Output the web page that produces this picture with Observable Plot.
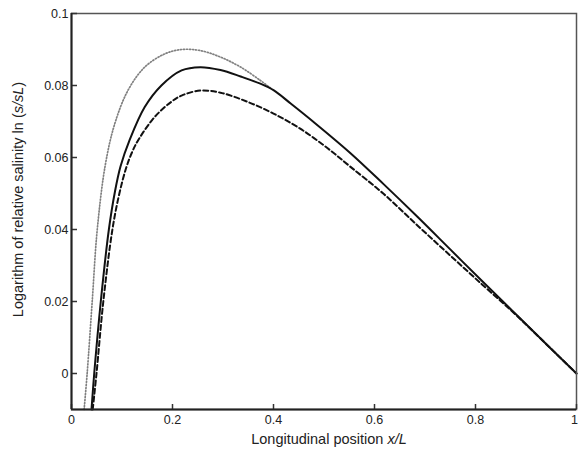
<!DOCTYPE html>
<html>
<head>
<meta charset="utf-8">
<script src="https://cdn.jsdelivr.net/npm/d3@7"></script>
<script src="https://cdn.jsdelivr.net/npm/@observablehq/plot@0.6"></script>
<style>
  html, body { margin: 0; padding: 0; background: #fff; }
  svg { display: block; }
</style>
</head>
<body>
<div id="chart"></div>
<script>
// Solid curve (x/L, ln(s/sL))
const solidX = [0.0396, 0.045, 0.058, 0.074, 0.086, 0.097, 0.115, 0.145, 0.178, 0.218, 0.255, 0.295, 0.335, 0.374, 0.4, 0.434, 0.48, 0.5525, 0.618, 0.6845, 0.7505, 0.8165, 0.8826, 0.9485, 1.0];
const solidY = [-0.01, 0, 0.02, 0.04, 0.0505, 0.0575, 0.0648, 0.074, 0.08, 0.0842, 0.0851, 0.0843, 0.0825, 0.0805, 0.0787, 0.075, 0.0698, 0.0612, 0.0526, 0.0436, 0.0344, 0.0252, 0.0161, 0.007, 0];
// Dashed curve
const dashedX = [0.042, 0.0495, 0.063, 0.081, 0.094, 0.108, 0.12, 0.132, 0.165, 0.198, 0.218, 0.255, 0.295, 0.348, 0.4, 0.453, 0.506, 0.5525, 0.618, 0.6845, 0.7505, 0.8165, 0.87, 0.92, 1.0];
const dashedY = [-0.01, 0, 0.02, 0.04, 0.0495, 0.057, 0.0615, 0.0648, 0.0713, 0.0755, 0.0772, 0.0786, 0.078, 0.0755, 0.0722, 0.068, 0.0627, 0.0574, 0.0499, 0.0412, 0.0327, 0.0243, 0.0176, 0.0109, 0];
// Dotted (grey) curve
const dottedX = [0.025, 0.031, 0.041, 0.051, 0.067, 0.0857, 0.112, 0.145, 0.185, 0.218, 0.255, 0.295, 0.335, 0.374, 0.394];
const dottedY = [-0.01, 0, 0.02, 0.04, 0.058, 0.0694, 0.0787, 0.0851, 0.0888, 0.09, 0.0897, 0.0879, 0.0851, 0.0814, 0.0793];

const xTicks = [0, 0.2, 0.4, 0.6, 0.8, 1];
const xTickLabels = ["0", "0.2", "0.4", "0.6", "0.8", "1"];
const yTicks = [0, 0.02, 0.04, 0.06, 0.08, 0.1];
const yTickLabels = ["0", "0.02", "0.04", "0.06", "0.08", "0.1"];
const xLabel = "Longitudinal position x/L";
const yLabel = "Logarithm of relative salinity ln (s/sL)";

const toPts = (xs, ys) => xs.map((x, i) => ({x, y: ys[i]}));
const solid = toPts(solidX, solidY);
const dashed = toPts(dashedX, dashedY);
const dotted = toPts(dottedX, dottedY);

const W = 578, H = 454;
const mL = 71, mR = 2, mT = 13, mB = 45;
const innerW = W - mL - mR, innerH = H - mT - mB;

const chart = Plot.plot({
  width: W,
  height: H,
  marginLeft: mL,
  marginRight: mR,
  marginTop: mT,
  marginBottom: mB,
  style: {fontFamily: "'Liberation Sans', Arial, Helvetica, sans-serif", fontSize: "12.5px", color: "#222", background: "#fff"},
  x: {domain: [0, 1]},
  y: {domain: [-0.01, 0.1]},
  marks: [
    Plot.line(dotted, {x: "x", y: "y", stroke: "#808080", strokeWidth: 1.7, strokeDasharray: "1.1,1.9", curve: "catmull-rom"}),
    Plot.line(dashed, {x: "x", y: "y", stroke: "#111", strokeWidth: 2, strokeDasharray: "5,3", curve: "catmull-rom"}),
    Plot.line(solid, {x: "x", y: "y", stroke: "#111", strokeWidth: 2, curve: "catmull-rom"}),
    Plot.frame({stroke: "#555", strokeWidth: 1.5}),
    Plot.gridX(xTicks, {stroke: "#333", strokeOpacity: 1, strokeWidth: 1.5, insetTop: innerH - 5}),
    Plot.gridY(yTicks, {stroke: "#333", strokeOpacity: 1, strokeWidth: 1.5, insetRight: innerW - 6}),
    Plot.axisX({ticks: xTicks, tickSize: 0, tickPadding: 6, tickFormat: d => xTickLabels[xTicks.indexOf(d)], label: null}),
    Plot.axisY({ticks: yTicks, tickSize: 0, tickPadding: 3, tickFormat: d => yTickLabels[yTicks.indexOf(d)], label: null}),
    Plot.ruleX([0], {stroke: "#222", strokeWidth: 2}),
    Plot.ruleY([-0.01], {stroke: "#222", strokeWidth: 2}),
    Plot.text([xLabel], {frameAnchor: "bottom", textAnchor: "middle", dx: 5, dy: 34, fontSize: 14.5, fill: "#222"}),
    Plot.text([yLabel], {frameAnchor: "left", textAnchor: "middle", dx: -53, dy: -12, rotate: -90, fontSize: 14.5, fill: "#222"})
  ]
});

// italicise the variable parts of the axis labels
d3.select(chart).selectAll("text").each(function() {
  const t = this.textContent;
  if (t === xLabel) {
    const s = d3.select(this).text("");
    s.append("tspan").text("Longitudinal position ");
    s.append("tspan").attr("font-style", "italic").text("x/L");
  } else if (t === yLabel) {
    const s = d3.select(this).text("");
    s.append("tspan").text("Logarithm of relative salinity ln (");
    s.append("tspan").attr("font-style", "italic").text("s/sL");
    s.append("tspan").text(")");
  }
});
// keep the last x tick label inside the picture
d3.select(chart).selectAll('[aria-label="x-axis tick label"] text')
  .filter(function() { return this.textContent === "1"; })
  .attr("text-anchor", "end").attr("dx", 1.5);

document.getElementById("chart").appendChild(chart);
</script>
</body>
</html>
